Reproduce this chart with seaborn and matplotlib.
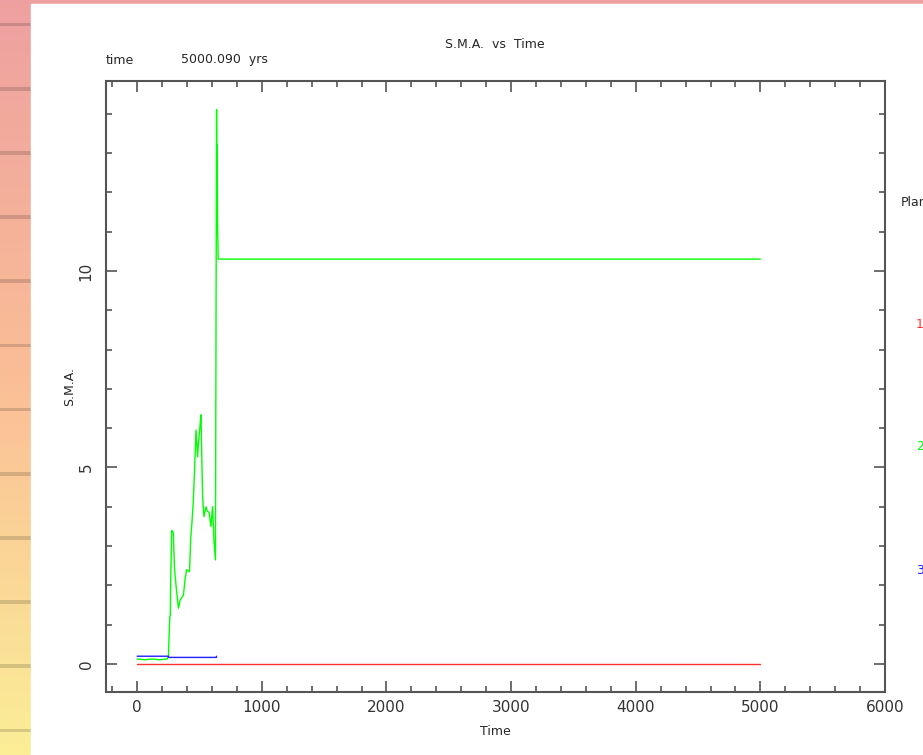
import numpy as np
import pandas as pd
import matplotlib
matplotlib.use("Agg")
import matplotlib.pyplot as plt
from matplotlib.ticker import MultipleLocator
import seaborn as sns

# semi-major axis of each planet vs time
t_p1 = [0, 5000]
a_p1 = [0.01, 0.01]

t_p2 = [0, 60, 120, 180, 240, 251, 256, 262, 266, 270, 277, 290, 300, 315, 331,
        345, 371, 384, 397, 420, 429, 440, 451, 462, 472, 485, 491, 504, 512,
        525, 536, 552, 562, 578, 592, 605, 616, 628, 637, 640, 642, 645, 650, 5000]
a_p2 = [0.13, 0.11, 0.13, 0.11, 0.13, 0.2, 0.7, 1.2, 1.25, 2.3, 3.4, 3.35, 2.4,
        1.9, 1.42, 1.63, 1.75, 2.14, 2.4, 2.35, 3.15, 3.62, 4.17, 5.06, 5.95,
        5.27, 5.6, 6.04, 6.34, 4.26, 3.75, 4.0, 3.9, 3.85, 3.5, 4.0, 3.15, 2.65,
        14.1, 11.5, 13.2, 11.2, 10.3, 10.3]

t_p3 = [0, 250, 252, 635, 637]
a_p3 = [0.2, 0.2, 0.17, 0.17, 0.2]

planets = ["1", "2", "3"]
colors = ["#ff3030", "#00ff00", "#2020ff"]

df = pd.concat([
    pd.DataFrame({"Time": t_p1, "S.M.A.": a_p1, "Planet": "1"}),
    pd.DataFrame({"Time": t_p2, "S.M.A.": a_p2, "Planet": "2"}),
    pd.DataFrame({"Time": t_p3, "S.M.A.": a_p3, "Planet": "3"}),
], ignore_index=True)

sns.set_style("ticks")
plt.rcParams["font.family"] = ["DejaVu Sans"]

fig = plt.figure(figsize=(9.23, 7.55), dpi=100)
fig.patch.set_facecolor("white")

# striped gradient backdrop on the left / top edge
bg = fig.add_axes([0, 0, 1, 1], zorder=-10)
rows = 200
top = np.array([238, 160, 160]) / 255
mid = np.array([250, 190, 150]) / 255
bot = np.array([250, 238, 150]) / 255
s = np.linspace(0, 1, rows)[:, None]
grad = np.where(s < 0.5, top + (mid - top) * (s / 0.5), mid + (bot - mid) * ((s - 0.5) / 0.5))
for r in range(6, rows, 17):
    grad[r:r + 1] = grad[r:r + 1] * 0.85
bg.imshow(grad[:, None, :], aspect="auto", extent=[0, 1, 0, 1])
bg.add_patch(plt.Rectangle((31 / 923, 0), 1, 1 - 4 / 755, color="white", zorder=2))
bg.set_xlim(0, 1)
bg.set_ylim(0, 1)
bg.axis("off")

ax = fig.add_axes([106 / 923, 1 - 692 / 755, 779 / 923, 611 / 755])
sns.lineplot(data=df, x="Time", y="S.M.A.", hue="Planet", palette=dict(zip(planets, colors)),
             estimator=None, sort=False, linewidth=1.0, legend=False, ax=ax)

ax.set_xlim(-250, 6000)
ax.set_ylim(-0.71, 14.83)
ax.xaxis.set_major_locator(MultipleLocator(1000))
ax.xaxis.set_minor_locator(MultipleLocator(200))
ax.yaxis.set_major_locator(MultipleLocator(5))
ax.yaxis.set_minor_locator(MultipleLocator(1))
ax.tick_params(which="both", direction="in", top=True, right=True, color="#555555",
               labelsize=11, labelcolor="#333333", width=1.2)
ax.tick_params(which="major", length=8)
ax.tick_params(axis="x", which="major", pad=6)
ax.tick_params(axis="y", which="major", pad=9)
ax.tick_params(which="minor", length=4)
for lab in ax.get_yticklabels():
    lab.set_rotation(90)
    lab.set_va("center")
for sp in ax.spines.values():
    sp.set_color("#555555")
    sp.set_linewidth(1.5)

ax.set_xlabel("Time", fontsize=9, labelpad=7)
ax.set_ylabel("S.M.A.", fontsize=9, labelpad=2)
ax.set_facecolor("white")

fig.text(495 / 923, 1 - 45 / 755, "S.M.A.  vs  Time", ha="center", va="center", fontsize=9)
fig.text(106 / 923, 1 - 60 / 755, "time", ha="left", va="center", fontsize=9)
fig.text(181 / 923, 1 - 60 / 755, "5000.090  yrs", ha="left", va="center", fontsize=9)

fig.text(901 / 923, 1 - 203 / 755, "Planet", ha="left", va="center", fontsize=9)
for name, c, yp in zip(planets, colors, [325, 447, 570]):
    fig.text(916 / 923, 1 - yp / 755, name, ha="left", va="center", fontsize=9, color=c)

fig.savefig("out.png", dpi=100)
